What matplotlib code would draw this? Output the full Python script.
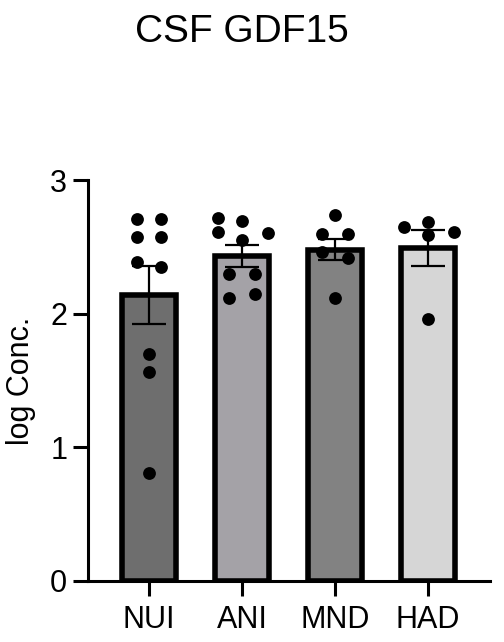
import matplotlib
matplotlib.use("Agg")
import matplotlib.pyplot as plt
import numpy as np

plt.rcParams['font.family'] = ['Liberation Sans', 'DejaVu Sans']

categories = ["NUI", "ANI", "MND", "HAD"]
means = [2.14, 2.43, 2.48, 2.49]
sems = [0.215, 0.08, 0.08, 0.135]
nui_pts = [2.71, 2.71, 2.57, 2.57, 2.385, 2.35, 1.70, 1.56, 0.81]
ani_pts = [2.715, 2.69, 2.60, 2.61, 2.55, 2.30, 2.30, 2.115, 2.145]
mnd_pts = [2.74, 2.595, 2.595, 2.46, 2.42, 2.12]
had_pts = [2.65, 2.685, 2.59, 2.61, 1.96]
points = [nui_pts, ani_pts, mnd_pts, had_pts]
bar_colors = ["#6e6e6e", "#a4a2a7", "#828282", "#d6d6d6"]

# horizontal scatter offsets of dots (layout)
offsets = [
    [-0.13, 0.13, -0.13, 0.13, -0.13, 0.13, 0.0, 0.0, 0.0],
    [-0.26, 0.0, 0.28, -0.26, 0.0, -0.14, 0.14, -0.14, 0.14],
    [0.0, -0.14, 0.14, -0.14, 0.14, 0.0],
    [-0.26, 0.0, 0.0, 0.28, 0.0],
]

W, H = 504, 642
fig = plt.figure(figsize=(W / 100, H / 100), dpi=100)
ax = fig.add_axes([88 / W, 1 - 581 / H, (490 - 88) / W, (581 - 180) / H])

x = np.arange(len(categories))
ax.bar(x, means, width=0.58, color=bar_colors, edgecolor="black", linewidth=4.0, zorder=2)
ax.errorbar(x, means, yerr=sems, fmt="none", ecolor="black", elinewidth=1.6,
            capsize=12, capthick=1.6, zorder=3)
for i, pts in enumerate(points):
    ax.scatter(x[i] + np.array(offsets[i]), pts, s=85, color="black", zorder=4, linewidths=0)

ax.set_xlim(-0.655, 3.667)
ax.set_ylim(0, 3)
ax.set_yticks([0, 1, 2, 3])
ax.set_xticks(x)
ax.set_xticklabels(categories)
for s in ["top", "right"]:
    ax.spines[s].set_visible(False)
for s in ["left", "bottom"]:
    ax.spines[s].set_linewidth(2.2)
ax.tick_params(axis="both", length=11, width=2.2, labelsize=22, colors="black")
ax.tick_params(axis="x", pad=6)
ax.tick_params(axis="y", pad=4)
ax.set_ylabel("log Conc.", fontsize=22, labelpad=10)
fig.text(242 / W, 1 - 32 / H, "CSF GDF15", ha="center", va="center", fontsize=28)

fig.savefig("out.png", dpi=100)
